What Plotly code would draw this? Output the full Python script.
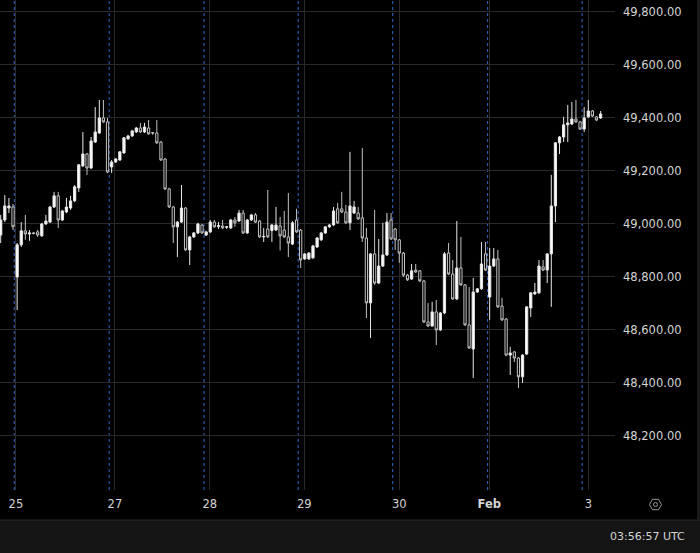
import math
import plotly.graph_objects as go

# ---- data (hourly candles) ----
opens = [48958, 49015, 49060, 49064, 48800, 48921, 48974, 48962, 48966, 48970,
         48955, 49000, 49007, 49064, 49106, 49015, 49045, 49060, 49087, 49136,
         49219, 49264, 49211, 49309, 49343, 49400, 49385, 49215, 49234, 49241,
         49268, 49321, 49332, 49347, 49362, 49347, 49362, 49345, 49343, 49309,
         49245, 49132, 49064, 48989, 49007, 49060, 48902, 48951, 48966, 48996,
         48958, 48970, 49007, 48990, 48992, 48988, 48985, 49015, 49011, 49041,
         48966, 49015, 49034, 49011, 48951, 48981, 48975, 48977, 48992, 48977,
         48951, 48924, 49015, 48977, 48868, 48868, 48872, 48913, 48940, 48966,
         48989, 48996, 49057, 49057, 49045, 49004, 49041, 49041, 49023, 48947,
         48702, 48887, 48777, 48841, 48883, 49015, 48981, 48940, 48890, 48807,
         48792, 48826, 48823, 48785, 48630, 48615, 48668, 48600, 48664, 48890,
         48811, 48717, 48834, 48770, 48619, 48528, 48743, 48755, 48887, 48724,
         48841, 48868, 48690, 48641, 48505, 48517, 48494, 48423, 48509, 48683,
         48736, 48740, 48838, 48826, 48887, 49068, 49306, 49328, 49374, 49377,
         49396, 49385, 49358, 49404, 49426, 49404, 49400]
highs = [49034, 49109, 49098, 49075, 48928, 49007, 49034, 48977, 48970, 48977,
         49004, 49034, 49068, 49121, 49121, 49053, 49098, 49106, 49147, 49226,
         49347, 49268, 49328, 49441, 49468, 49468, 49400, 49241, 49249, 49275,
         49328, 49336, 49355, 49366, 49381, 49381, 49392, 49347, 49392, 49313,
         49249, 49136, 49068, 49011, 49147, 49064, 48955, 48970, 49004, 49000,
         48974, 49015, 49015, 49007, 49015, 48992, 49019, 49026, 49053, 49053,
         49019, 49038, 49041, 49015, 48985, 49128, 49000, 49064, 49026, 49049,
         49117, 49011, 49057, 48981, 48890, 48894, 48921, 48951, 48970, 48992,
         49000, 49064, 49079, 49121, 49072, 49272, 49087, 49064, 49287, 48985,
         48890, 49053, 48943, 49004, 49041, 49041, 48985, 48943, 48894, 48811,
         48849, 48849, 48826, 48789, 48702, 48706, 48713, 48668, 48894, 48928,
         48864, 49011, 48951, 48773, 48762, 48796, 48758, 48932, 48932, 48909,
         48909, 48902, 48721, 48645, 48536, 48520, 48498, 48509, 48690, 48743,
         48777, 48864, 48864, 48890, 49185, 49309, 49332, 49404, 49449, 49460,
         49468, 49389, 49441, 49468, 49430, 49407, 49426]
lows = [48928, 49007, 49041, 48977, 48675, 48913, 48940, 48936, 48960, 48951,
        48951, 48996, 49004, 49060, 48985, 49011, 49041, 49053, 49083, 49121,
        49215, 49185, 49207, 49306, 49340, 49381, 49192, 49192, 49230, 49238,
        49264, 49317, 49328, 49343, 49343, 49343, 49336, 49336, 49302, 49238,
        49128, 49060, 48928, 48875, 49004, 48898, 48845, 48947, 48962, 48962,
        48955, 48966, 48985, 48981, 48981, 48981, 48981, 48989, 49007, 48962,
        48962, 49011, 49004, 48947, 48932, 48947, 48932, 48973, 48900, 48947,
        48875, 48920, 48966, 48834, 48864, 48864, 48868, 48909, 48936, 48962,
        48985, 48992, 49000, 49041, 49000, 48977, 49038, 49015, 48932, 48645,
        48570, 48770, 48773, 48838, 48879, 48940, 48902, 48853, 48800, 48785,
        48789, 48815, 48781, 48626, 48611, 48611, 48543, 48596, 48660, 48807,
        48713, 48713, 48766, 48615, 48528, 48419, 48740, 48751, 48822, 48638,
        48838, 48683, 48634, 48501, 48430, 48479, 48381, 48400, 48505, 48649,
        48732, 48736, 48822, 48777, 48687, 49007, 49264, 49309, 49309, 49373,
        49381, 49355, 49347, 49400, 49404, 49388, 49396]
closes = [49015, 49068, 49068, 48989, 48921, 48974, 48962, 48966, 48964, 48958,
          49000, 49011, 49064, 49106, 49015, 49049, 49064, 49087, 49140, 49223,
          49264, 49211, 49313, 49347, 49400, 49385, 49196, 49234, 49245, 49272,
          49325, 49332, 49351, 49362, 49347, 49366, 49340, 49343, 49306, 49241,
          49132, 49064, 48989, 49007, 49060, 48902, 48951, 48966, 49000, 48966,
          48970, 49007, 48989, 48994, 48985, 48989, 49015, 49004, 49041, 48966,
          49015, 49034, 49007, 48951, 48953, 48951, 48996, 48996, 48955, 48951,
          48928, 49004, 48970, 48864, 48887, 48890, 48917, 48947, 48966, 48989,
          48996, 49049, 49004, 49045, 49004, 49068, 49064, 49019, 48947, 48702,
          48887, 48777, 48841, 48883, 49007, 48943, 48940, 48890, 48807, 48789,
          48823, 48819, 48785, 48630, 48615, 48668, 48600, 48664, 48887, 48811,
          48717, 48834, 48770, 48619, 48532, 48743, 48755, 48849, 48826, 48841,
          48868, 48687, 48638, 48505, 48513, 48494, 48423, 48505, 48687, 48740,
          48743, 48841, 48826, 48887, 49068, 49306, 49328, 49374, 49381, 49396,
          49385, 49358, 49400, 49426, 49407, 49392, 49415]

candle_idx = list(range(len(closes)))

# day labels on the time axis (in candle-index units)
day_tick_pos = [3.7, 27.8, 50.9, 73.9, 97.0, 118.9, 143.0]
day_tick_text = ["25", "27", "28", "29", "30", "<b>Feb</b>", "3"]

# session breaks (in candle-index units)
session_breaks = [3.3, 26.4, 49.5, 72.4, 95.4, 118.5, 141.5]

price_ticks = [48200, 48400, 48600, 48800, 49000, 49200, 49400, 49600, 49800]
price_range = [47996, 49845]
x_range = [-0.17, 149.5]
clock_text = "03:56:57 UTC"

TXT = "#d4d4d4"
FONT = "DejaVu Sans"

fig = go.Figure()
fig.add_trace(go.Candlestick(
    x=candle_idx, open=opens, high=highs, low=lows, close=closes,
    increasing=dict(line=dict(color="#e6e6e6", width=1), fillcolor="#ffffff"),
    decreasing=dict(line=dict(color="#c2c2c2", width=1), fillcolor="#000000"),
    whiskerwidth=0, hoverinfo="skip", showlegend=False,
))

shapes = []
for sb in session_breaks:
    shapes.append(dict(type="line", xref="x", yref="paper", x0=sb, x1=sb, y0=0, y1=1,
                       line=dict(color="#3568c8", width=1, dash="3px,3px"), layer="below"))

# bottom time bar
W, H, R, B = 700, 553, 85, 63
pw, ph = W - R, H - B
def px(x):
    return x / pw
def py(y):
    return 1 - y / ph
shapes.append(dict(type="rect", xref="paper", yref="paper",
                   x0=px(0), x1=px(W), y0=py(520), y1=py(H + 2),
                   fillcolor="#141414", line=dict(width=0), layer="above"))
shapes.append(dict(type="line", xref="paper", yref="paper",
                   x0=px(0), x1=px(W), y0=py(520), y1=py(520),
                   line=dict(color="#2a2a2a", width=1)))
shapes.append(dict(type="rect", xref="paper", yref="paper",
                   x0=px(697), x1=px(700), y0=py(0), y1=py(520),
                   fillcolor="#1a1a1a", line=dict(width=0)))
# settings icon (hexagon + circle)
cx, cy, r = 655.5, 504.5, 6
pts = [(cx + r * math.cos(math.radians(a)), cy + r * math.sin(math.radians(a)))
       for a in range(0, 360, 60)]
path = "M " + " L ".join(f"{px(x):.5f},{py(y):.5f}" for x, y in pts) + " Z"
shapes.append(dict(type="path", xref="paper", yref="paper", path=path,
                   line=dict(color="#9a9a9a", width=1)))
shapes.append(dict(type="circle", xref="paper", yref="paper",
                   x0=px(cx - 2), x1=px(cx + 2), y0=py(cy + 2), y1=py(cy - 2),
                   line=dict(color="#9a9a9a", width=1)))

fig.update_layout(
    width=W, height=H,
    margin=dict(l=0, r=R, t=0, b=B, autoexpand=False),
    paper_bgcolor="#000000", plot_bgcolor="#000000",
    boxgap=0.22,
    shapes=shapes,
    font=dict(family=FONT, color=TXT, size=11.5),
    xaxis=dict(range=x_range, rangeslider=dict(visible=False), automargin=False,
               tickmode="array", tickvals=day_tick_pos, ticktext=day_tick_text,
               showgrid=True, gridcolor="#2a2a2a", gridwidth=1,
               zeroline=False, showline=False, ticks="",
               tickfont=dict(size=11.5, color=TXT, family=FONT),
               ticklabelstandoff=5, fixedrange=True),
    yaxis=dict(range=price_range, side="right", automargin=False,
               tickmode="array", tickvals=price_ticks,
               ticktext=[f"{v:,.2f}" for v in price_ticks],
               showgrid=True, gridcolor="#2a2a2a", gridwidth=1,
               zeroline=False, showline=False, ticks="",
               tickfont=dict(size=11.5, color=TXT, family=FONT),
               ticklabelstandoff=7, fixedrange=True),
    annotations=[dict(text=clock_text, xref="paper", yref="paper",
                      x=px(687), y=py(536), xanchor="right", yanchor="middle",
                      showarrow=False, font=dict(size=11, color=TXT, family=FONT))],
)

fig.write_html(
    "out.html",
    config={"displayModeBar": False},
    post_script="document.body.style.margin='0';document.body.style.background='#000';",
)
